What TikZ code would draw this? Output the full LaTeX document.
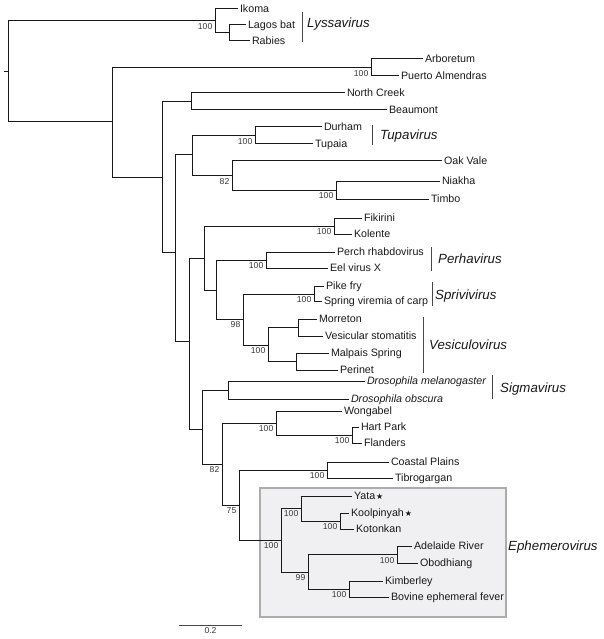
\documentclass[tikz,border=0pt]{standalone}
\usepackage{fontspec}
\setmainfont{Liberation Sans}
\newfontfamily\starfont{DejaVu Sans}
\definecolor{boxfill}{RGB}{240,240,242}
\definecolor{boxline}{RGB}{172,172,172}
\definecolor{treeline}{RGB}{25,25,25}
\newcommand\boot[2]{\node[bsl] (bs-#1) at ([shift={(-2.5,6)}]#1) {#2};}
\newcommand\mystar{\hspace{1pt}{\starfont\fontsize{8}{9}\selectfont ★}}
\begin{document}
\begin{tikzpicture}[x=1pt,y=-1pt,
  br/.style={draw=treeline, line width=1pt},
  leaf/.style={anchor=west, inner sep=1.8pt, font=\fontsize{10.7}{12}\selectfont, text=black!90, text height=7.7pt, text depth=1.6pt},
  ileaf/.style={leaf, font=\fontsize{10.7}{12}\selectfont\itshape},
  bsl/.style={anchor=east, inner sep=0pt, font=\fontsize{8.6}{10}\selectfont, text=black!78},
  genus/.style={anchor=base west, inner sep=0pt, font=\fontsize{13.3}{15}\selectfont\itshape, text=black!90},
  gbar/.style={draw=black!72, line width=0.85pt},
  boxst/.style={fill=boxfill, draw=boxline, line width=1.3pt}
]
\useasboundingbox (0,0) rectangle (603,639);
% Ephemerovirus box
\draw[boxst] (260,488) rectangle (506,617);

% internal nodes
\coordinate (root) at (8,71.5);
\coordinate (tick) at (3.5,71.5);
\coordinate (lys) at (215,21);
\coordinate (lagrab) at (229,33);
\coordinate (ingr) at (112,122);
\coordinate (arb) at (371,67.5);
\coordinate (n162) at (162,177);
\coordinate (ncb) at (191,101.5);
\coordinate (n175) at (175,252);
\coordinate (n192) at (192,155);
\coordinate (tup) at (255,135.5);
\coordinate (n232) at (232,175.5);
\coordinate (nia) at (336,190);
\coordinate (n189) at (189,341);
\coordinate (n204) at (204,258);
\coordinate (fk) at (334,226);
\coordinate (n216) at (216,290);
\coordinate (per) at (266,260);
\coordinate (n243) at (243,319);
\coordinate (spr) at (314,294);
\coordinate (ves) at (268,345);
\coordinate (mv) at (298,327.5);
\coordinate (mp) at (296,361.5);
\coordinate (n202) at (202,429);
\coordinate (dro) at (228,390);
\coordinate (n222) at (222,464);
\coordinate (wg) at (276,423);
\coordinate (hp) at (352,435);
\coordinate (n239) at (239,505);
\coordinate (cpt) at (327,470);
\coordinate (eph) at (281,540);
\coordinate (yk) at (301,508);
\coordinate (kk) at (340,521);
\coordinate (ak) at (308,572);
\coordinate (ao) at (397,554.5);
\coordinate (kb) at (349,589);

% leaves
\node[leaf] (ikoma) at (238,9) {Ikoma};
\node[leaf] (lagos) at (246,25) {Lagos bat};
\node[leaf] (rabies) at (250,41) {Rabies};
\node[leaf] (arbo) at (423,59) {Arboretum};
\node[leaf] (puerto) at (399,76) {Puerto Almendras};
\node[leaf] (ncreek) at (345,93) {North Creek};
\node[leaf] (beau) at (387,110) {Beaumont};
\node[leaf] (durham) at (322,127) {Durham};
\node[leaf] (tupaia) at (313,144) {Tupaia};
\node[leaf] (oakvale) at (442,161) {Oak Vale};
\node[leaf] (niakha) at (440,181) {Niakha};
\node[leaf] (timbo) at (429,199) {Timbo};
\node[leaf] (fikir) at (362,218) {Fikirini};
\node[leaf] (kol) at (352,234) {Kolente};
\node[leaf] (perch) at (335,252) {Perch rhabdovirus};
\node[leaf] (eel) at (328,268) {Eel virus X};
\node[leaf] (pike) at (324,286) {Pike fry};
\node[leaf] (svc) at (322,301) {Spring viremia of carp};
\node[leaf] (morr) at (317,319) {Morreton};
\node[leaf] (vsv) at (323,336) {Vesicular stomatitis};
\node[leaf] (malp) at (329,353) {Malpais Spring};
\node[leaf] (peri) at (338,370) {Perinet};
\node[ileaf] (dmel) at (365,381) {Drosophila melanogaster};
\node[ileaf] (dobs) at (349,399) {Drosophila obscura};
\node[leaf] (wong) at (342,411) {Wongabel};
\node[leaf] (hart) at (359,427) {Hart Park};
\node[leaf] (fland) at (362,443) {Flanders};
\node[leaf] (coast) at (389,462) {Coastal Plains};
\node[leaf] (tibro) at (393,478) {Tibrogargan};
\node[leaf] (yata) at (352,496) {Yata\mystar};
\node[leaf] (kool) at (349,513) {Koolpinyah\mystar};
\node[leaf] (koton) at (354,529) {Kotonkan};
\node[leaf] (adel) at (412,546.5) {Adelaide River};
\node[leaf] (obod) at (418,563) {Obodhiang};
\node[leaf] (kimb) at (383,581) {Kimberley};
\node[leaf] (bef) at (389,597) {Bovine ephemeral fever};

% branches
\draw[br] (tick) -- (root);
\draw[br] (root) |- (lys);
\draw[br] (root) |- (ingr);
\draw[br] (lys) |- (ikoma.west);
\draw[br] (lys) |- (lagrab);
\draw[br] (lagrab) |- (lagos.west);
\draw[br] (lagrab) |- (rabies.west);
\draw[br] (ingr) |- (arb);
\draw[br] (ingr) |- (n162);
\draw[br] (arb) |- (arbo.west);
\draw[br] (arb) |- (puerto.west);
\draw[br] (n162) |- (ncb);
\draw[br] (n162) |- (n175);
\draw[br] (ncb) |- (ncreek.west);
\draw[br] (ncb) |- (beau.west);
\draw[br] (n175) |- (n192);
\draw[br] (n175) |- (n189);
\draw[br] (n192) |- (tup);
\draw[br] (n192) |- (n232);
\draw[br] (tup) |- (durham.west);
\draw[br] (tup) |- (tupaia.west);
\draw[br] (n232) |- (oakvale.west);
\draw[br] (n232) |- (nia);
\draw[br] (nia) |- (niakha.west);
\draw[br] (nia) |- (timbo.west);
\draw[br] (n189) |- (n204);
\draw[br] (n189) |- (n202);
\draw[br] (n204) |- (fk);
\draw[br] (n204) |- (n216);
\draw[br] (fk) |- (fikir.west);
\draw[br] (fk) |- (kol.west);
\draw[br] (n216) |- (per);
\draw[br] (n216) |- (n243);
\draw[br] (per) |- (perch.west);
\draw[br] (per) |- (eel.west);
\draw[br] (n243) |- (spr);
\draw[br] (n243) |- (ves);
\draw[br] (spr) |- (pike.west);
\draw[br] (spr) |- (svc.west);
\draw[br] (ves) |- (mv);
\draw[br] (ves) |- (mp);
\draw[br] (mv) |- (morr.west);
\draw[br] (mv) |- (vsv.west);
\draw[br] (mp) |- (malp.west);
\draw[br] (mp) |- (peri.west);
\draw[br] (n202) |- (dro);
\draw[br] (n202) |- (n222);
\draw[br] (dro) |- (dmel.west);
\draw[br] (dro) |- (dobs.west);
\draw[br] (n222) |- (wg);
\draw[br] (n222) |- (n239);
\draw[br] (wg) |- (wong.west);
\draw[br] (wg) |- (hp);
\draw[br] (hp) |- (hart.west);
\draw[br] (hp) |- (fland.west);
\draw[br] (n239) |- (cpt);
\draw[br] (n239) |- (eph);
\draw[br] (cpt) |- (coast.west);
\draw[br] (cpt) |- (tibro.west);
\draw[br] (eph) |- (yk);
\draw[br] (eph) |- (ak);
\draw[br] (yk) |- (yata.west);
\draw[br] (yk) |- (kk);
\draw[br] (kk) |- (kool.west);
\draw[br] (kk) |- (koton.west);
\draw[br] (ak) |- (ao);
\draw[br] (ak) |- (kb);
\draw[br] (ao) |- (adel.west);
\draw[br] (ao) |- (obod.west);
\draw[br] (kb) |- (kimb.west);
\draw[br] (kb) |- (bef.west);

% bootstrap values
\boot{lys}{100}
\boot{arb}{100}
\boot{tup}{100}
\boot{n232}{82}
\boot{nia}{100}
\boot{fk}{100}
\boot{per}{100}
\boot{n243}{98}
\boot{spr}{100}
\boot{ves}{100}
\boot{wg}{100}
\boot{hp}{100}
\boot{n222}{82}
\boot{n239}{75}
\boot{cpt}{100}
\boot{eph}{100}
\boot{yk}{100}
\boot{kk}{100}
\boot{ak}{99}
\boot{ao}{100}
\boot{kb}{100}

% genus bars and labels
\coordinate (lysA) at (302,12); \coordinate (lysB) at (302,42);
\draw[gbar] (lysA) -- (lysB);
\node[genus] (lysT) at (307,28) {Lyssavirus};
\coordinate (tupA) at (372,125); \coordinate (tupB) at (372,145);
\draw[gbar] (tupA) -- (tupB);
\node[genus] (tupT) at (380,139.5) {Tupavirus};
\coordinate (perA) at (431,247); \coordinate (perB) at (431,271);
\draw[gbar] (perA) -- (perB);
\node[genus] (perT) at (438,263) {Perhavirus};
\coordinate (sprA) at (432,282); \coordinate (sprB) at (432,306);
\draw[gbar] (sprA) -- (sprB);
\node[genus] (sprT) at (435,299) {Sprivivirus};
\coordinate (vesA) at (423,317); \coordinate (vesB) at (423,373);
\draw[gbar] (vesA) -- (vesB);
\node[genus] (vesT) at (429,349) {Vesiculovirus};
\coordinate (sigA) at (492,375); \coordinate (sigB) at (492,399);
\draw[gbar] (sigA) -- (sigB);
\node[genus] (sigT) at (500,392.5) {Sigmavirus};
\node[genus] (ephT) at (508,550) {Ephemerovirus};

% scale bar
\coordinate (scA) at (179,625); \coordinate (scB) at (242,625);
\draw[draw=black!72, line width=1pt] (scA) -- (scB);
\node[inner sep=0pt, font=\fontsize{8.6}{10}\selectfont, text=black!78] (scT) at (210.5,630.5) {0.2};
\end{tikzpicture}
\end{document}
